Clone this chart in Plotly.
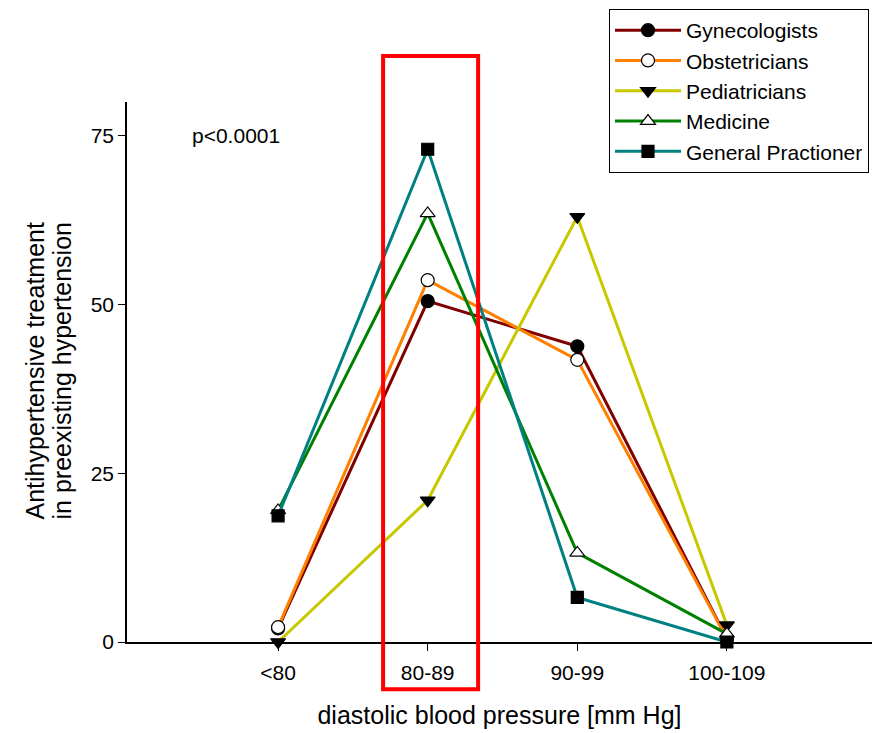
import plotly.graph_objects as go

categories = ["<80", "80-89", "90-99", "100-109"]
gynecologists = [2.0, 50.5, 43.8, 0.5]
obstetricians = [2.2, 53.6, 41.8, 0.5]
pediatricians = [0.0, 21.0, 63.0, 2.5]
medicine = [19.5, 63.5, 13.2, 1.2]
general_pract = [18.7, 73.0, 6.6, 0.0]

y_ticks = [0, 25, 50, 75]

series = [
    ("Gynecologists", gynecologists, "#800000", "circle", "black"),
    ("Obstetricians", obstetricians, "#FF8000", "circle", "white"),
    ("Pediatricians", pediatricians, "#C8C800", "triangle-down", "black"),
    ("Medicine", medicine, "#008000", "triangle-up", "white"),
    ("General Practioner", general_pract, "#008080", "square", "black"),
]

xs = list(range(len(categories)))
fig = go.Figure()
for name, vals, col, sym, fill in series:
    fig.add_trace(go.Scatter(
        x=xs, y=vals, name=name, mode="lines+markers",
        line=dict(color=col, width=3),
        marker=dict(symbol=sym, size=13 if sym != "square" else 12, color=fill,
                    line=dict(color="black", width=1.2)),
        cliponaxis=False,
    ))

xr = [-1.01, 3.97]
yr = [0, 80]
def px(v):
    return (v - xr[0]) / (xr[1] - xr[0])
def py(v):
    return (v - yr[0]) / (yr[1] - yr[0])

fig.add_shape(type="rect", xref="paper", yref="paper",
              x0=px(0.702), x1=px(1.337), y0=py(-7.0), y1=py(86.8),
              line=dict(color="#FF0000", width=4), fillcolor="rgba(0,0,0,0)")

fig.add_annotation(text="p<0.0001", xref="paper", yref="paper",
                   x=px(-0.59), y=py(75), xanchor="left", yanchor="middle",
                   showarrow=False, font=dict(size=21, color="black"))

# y-axis title (two lines)
fig.add_annotation(text="Antihypertensive treatment", xref="paper", yref="paper",
                   x=(35 - 127) / 745, y=0.501, xanchor="center", yanchor="middle",
                   textangle=-90, showarrow=False, font=dict(size=25, color="black"))
fig.add_annotation(text="in preexisting hypertension", xref="paper", yref="paper",
                   x=(62 - 127) / 745, y=0.501, xanchor="center", yanchor="middle",
                   textangle=-90, showarrow=False, font=dict(size=25, color="black"))

fig.update_layout(
    width=872, height=733,
    margin=dict(l=127, r=0, t=102, b=91),
    paper_bgcolor="white", plot_bgcolor="white",
    font=dict(family="Liberation Sans, Arial, sans-serif", color="black", size=21),
    legend=dict(x=(609 - 127) / 745, y=(642 - 9) / 540, xanchor="left", yanchor="top",
                bordercolor="black", borderwidth=1, bgcolor="white",
                font=dict(size=21), itemwidth=66,
                tracegroupgap=0),
    showlegend=True,
)
fig.update_xaxes(range=xr, tickvals=xs, ticktext=categories,
                 showline=True, linecolor="black", linewidth=1.5,
                 ticks="outside", ticklen=7, tickcolor="black",
                 showgrid=False, zeroline=False,
                 tickfont=dict(size=21), ticklabelstandoff=4,
                 title=dict(text="diastolic blood pressure [mm Hg]", font=dict(size=25), standoff=24))
fig.update_yaxes(range=yr, tickvals=y_ticks,
                 showline=True, linecolor="black", linewidth=1.5,
                 ticks="outside", ticklen=7, tickcolor="black",
                 showgrid=False, zeroline=False,
                 tickfont=dict(size=21))

fig.write_html("out.html")
